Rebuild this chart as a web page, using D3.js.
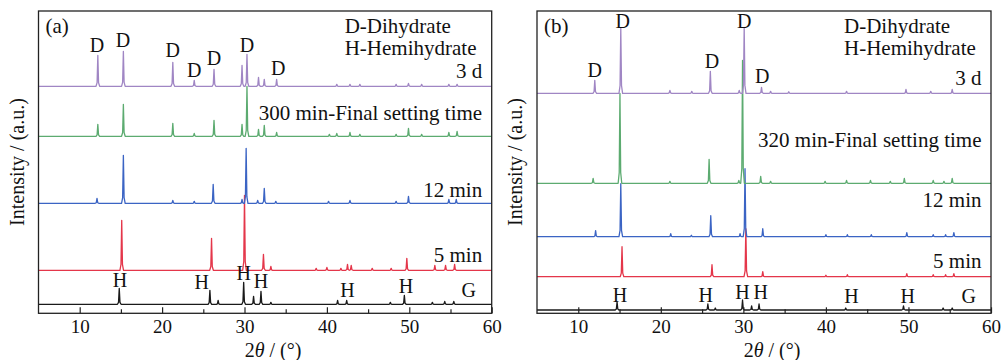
<!DOCTYPE html>
<html>
<head>
<meta charset="utf-8">
<script src="https://cdn.jsdelivr.net/npm/d3@7"></script>
<style>
  body { margin: 0; background: #fff; }
</style>
</head>
<body>
<svg id="chart" width="1001" height="360"></svg>
<script>
// ---- data ----
const thetaRange = [5, 60];
const majorTicks = [10, 20, 30, 40, 50, 60];
const minorTicks = [15, 25, 35, 45, 55];

// stacking order, bottom -> top
const seriesKeys = ['raw', '5 min', '12 min', 'final', '3 d'];

// panel (a): baseline offset of each pattern (a.u.) and [2θ, peak height] pairs
const offsetsA = [9, 43, 110, 177, 227];
const rawA = [[14.8,16],[25.8,14],[26.8,4],[29.9,22],[31.1,8],[32.0,13],[33.2,2],[41.3,4],[42.4,4],[47.7,2],[49.4,9],[52.8,2],[54.3,3],[55.4,3]];
const min5A = [[15.1,50],[26.0,32],[30.0,75],[32.3,16],[33.2,4],[38.7,2],[40.0,3],[41.7,2],[42.5,6],[42.95,5],[45.5,2],[47.8,2],[49.7,12],[53.1,5],[54.4,5],[55.5,6]];
const min12A = [[12.1,5],[15.3,48],[21.3,3],[23.9,2],[26.2,19],[29.7,4],[30.2,55],[31.6,3],[32.4,15],[33.8,2],[40.2,2],[42.8,3],[48.4,2],[49.9,7],[54.8,4],[55.7,4]];
const finalA = [[12.2,12],[15.3,32],[21.3,13],[23.9,3],[26.3,16],[29.7,12],[30.3,50],[31.7,7],[32.4,11],[33.9,4],[40.3,2],[41.2,3],[42.8,4],[44.0,2],[48.4,2],[49.9,8],[51.5,2],[54.8,4],[55.8,5]];
const day3A = [[12.2,31],[15.3,35],[21.3,24],[23.9,6],[26.3,17],[29.7,21],[30.3,32],[31.7,9],[32.4,7],[33.9,7],[41.2,2],[42.8,2],[44.0,2],[48.4,2],[49.9,3],[51.5,2],[54.8,2],[55.8,2]];

// panel (b)
const offsetsB = [3.3, 36.6, 76.6, 130, 220];
const rawB = [[14.7,8],[25.7,6],[26.6,2],[29.9,10],[31.0,4],[31.9,6],[42.4,2],[49.4,4],[54.2,2],[55.3,2]];
const min5B = [[15.3,30],[26.2,12],[30.3,48],[32.35,5],[40.0,1.5],[42.6,2],[49.8,3],[53.0,2],[54.5,2],[55.5,3]];
const min12B = [[12.1,6],[15.15,53],[21.2,3],[23.7,1.5],[26.05,21],[29.6,3],[30.2,68],[32.35,8],[40.0,2],[42.6,2],[45.5,2],[49.8,4],[53.0,2],[54.5,2],[55.5,4]];
const finalB = [[11.8,5],[15.05,90],[21.1,2],[25.85,24],[29.45,3],[29.9,123],[32.1,7],[33.3,2],[39.9,2],[42.5,3],[45.4,3],[47.8,2],[49.5,5],[53.0,3],[54.3,2],[55.3,5]];
const day3B = [[12.0,13],[15.15,65],[21.1,3],[23.75,2],[26.0,22],[29.5,3],[30.1,66],[32.2,6],[33.3,2],[35.5,1.5],[42.5,2],[49.7,4],[52.7,2],[55.3,4]];

// phase marks: [2θ, a.u., text]
const phaseLabelsA = [[12.1,261,'D'],[15.25,266,'D'],[21.3,256,'D'],[23.9,236,'D'],[26.3,248,'D'],[30.3,261,'D'],[34.1,238,'D'],
  [14.9,26.6,'H'],[24.8,24.3,'H'],[29.9,33.3,'H'],[32.0,25,'H'],[42.5,16,'H'],[49.6,20.6,'H'],[57.2,16,'G']];
const phaseLabelsB = [[12.0,236.3,'D'],[15.4,285.3,'D'],[26.2,245.3,'D'],[30.1,285.3,'D'],[32.3,230.3,'D'],
  [15.06,11.6,'H'],[25.45,11.6,'H'],[29.9,14,'H'],[32.1,14,'H'],[43.1,10,'H'],[49.9,10,'H'],[57.3,10.6,'G']];

// sample names: [a.u., text]
const sampleLabelsA = [[235.3,'3 d'],[193.3,'300 min-Final setting time'],[116.6,'12 min'],[51.6,'5 min']];
const sampleLabelsB = [[228.3,'3 d'],[166.6,'320 min-Final setting time'],[106.6,'12 min'],[45,'5 min']];

const legendLines = ['D-Dihydrate', 'H-Hemihydrate'];

// ---- layout / style ----
const colors = ['#1a1a1a', '#e4364a', '#3b64c4', '#5cab70', '#a086c4'];
const serif = "'Liberation Serif', 'Times New Roman', Tinos, 'DejaVu Serif', serif";
const plotTop = 11, plotBottom = 313.3, yMax = 302.3;
const panels = [
  { tag: '(a)', left: 38.5, right: 491.7, offsets: offsetsA, series: [rawA, min5A, min12A, finalA, day3A],
    phase: phaseLabelsA, samples: sampleLabelsA },
  { tag: '(b)', left: 537, right: 991, offsets: offsetsB, series: [rawB, min5B, min12B, finalB, day3B],
    phase: phaseLabelsB, samples: sampleLabelsB }
];

const svg = d3.select('#chart')
  .attr('font-family', serif);

// a peak drawn as a narrow spike with a small foot on each side
function peakPoints(peaks, w) {
  const pts = [[thetaRange[0], 0]];
  peaks.slice().sort((a, b) => a[0] - b[0]).forEach(([p, h]) => {
    pts.push([p - w, 0], [p - w * 0.4, h * 0.12], [p, h], [p + w * 0.4, h * 0.12], [p + w, 0]);
  });
  pts.push([thetaRange[1], 0]);
  return pts;
}

panels.forEach(panel => {
  const x = d3.scaleLinear().domain(thetaRange).range([panel.left, panel.right]);
  const y = d3.scaleLinear().domain([0, yMax]).range([plotBottom, plotTop]);
  const g = svg.append('g');

  // patterns
  panel.series.forEach((peaks, i) => {
    const off = panel.offsets[i];
    const line = d3.line().x(d => x(d[0])).y(d => y(off + d[1]));
    g.append('path')
      .datum(peakPoints(peaks, 0.22))
      .attr('class', 'pattern ' + seriesKeys[i].replace(' ', ''))
      .attr('fill', 'none')
      .attr('stroke', colors[i])
      .attr('stroke-width', 1.3)
      .attr('stroke-linejoin', 'round')
      .attr('d', line);
  });

  // frame
  g.append('rect')
    .attr('x', panel.left).attr('y', plotTop)
    .attr('width', panel.right - panel.left).attr('height', plotBottom - plotTop)
    .attr('fill', 'none').attr('stroke', '#222').attr('stroke-width', 1.3);

  // x axis, ticks pointing inward
  const major = d3.axisBottom(x).tickValues(majorTicks).tickSizeInner(-6).tickSizeOuter(0).tickPadding(8);
  const minor = d3.axisBottom(x).tickValues(minorTicks).tickSizeInner(-4).tickSizeOuter(0).tickFormat('');
  const gMinor = g.append('g').attr('transform', `translate(0,${plotBottom})`).call(minor);
  const gMajor = g.append('g').attr('transform', `translate(0,${plotBottom})`).call(major);
  [gMinor, gMajor].forEach(a => {
    a.attr('font-family', null).attr('font-size', null);
    a.select('.domain').remove();
    a.selectAll('.tick line').attr('stroke', '#222').attr('stroke-width', 1.2);
  });
  gMajor.selectAll('.tick text')
    .attr('y', 6).attr('dy', '0.71em')
    .attr('font-size', 19)
    .attr('fill', '#111');

  // axis titles
  const xt = g.append('text')
    .attr('x', (panel.left + panel.right) / 2 + 8).attr('y', 357)
    .attr('text-anchor', 'middle').attr('font-size', 20).attr('fill', '#111');
  xt.append('tspan').text('2');
  xt.append('tspan').attr('font-style', 'italic').text('θ');
  xt.append('tspan').text(' / (°)');

  g.append('text')
    .attr('transform', `translate(${panel.left - 15},162) rotate(-90)`)
    .attr('text-anchor', 'middle').attr('font-size', 20).attr('fill', '#111')
    .text('Intensity / (a.u.)');

  // panel tag
  g.append('text').attr('x', panel.left + 7).attr('y', 33)
    .attr('font-size', 21).attr('fill', '#111').text(panel.tag);

  // legend
  legendLines.forEach((t, i) => {
    g.append('text')
      .attr('x', panel.right - 147).attr('y', 33 + i * 22)
      .attr('font-size', 21).attr('fill', '#111').text(t);
  });

  // sample names
  g.selectAll('.sample').data(panel.samples).join('text')
    .attr('class', 'sample')
    .attr('x', panel.right - 9.5).attr('y', d => y(d[0]))
    .attr('text-anchor', 'end').attr('font-size', 21).attr('fill', '#111')
    .text(d => d[1]);

  // phase marks
  g.selectAll('.phase').data(panel.phase).join('text')
    .attr('class', 'phase')
    .attr('x', d => x(d[0])).attr('y', d => y(d[1]))
    .attr('text-anchor', 'middle').attr('font-size', 20).attr('fill', '#111')
    .text(d => d[2]);
});
</script>
</body>
</html>
